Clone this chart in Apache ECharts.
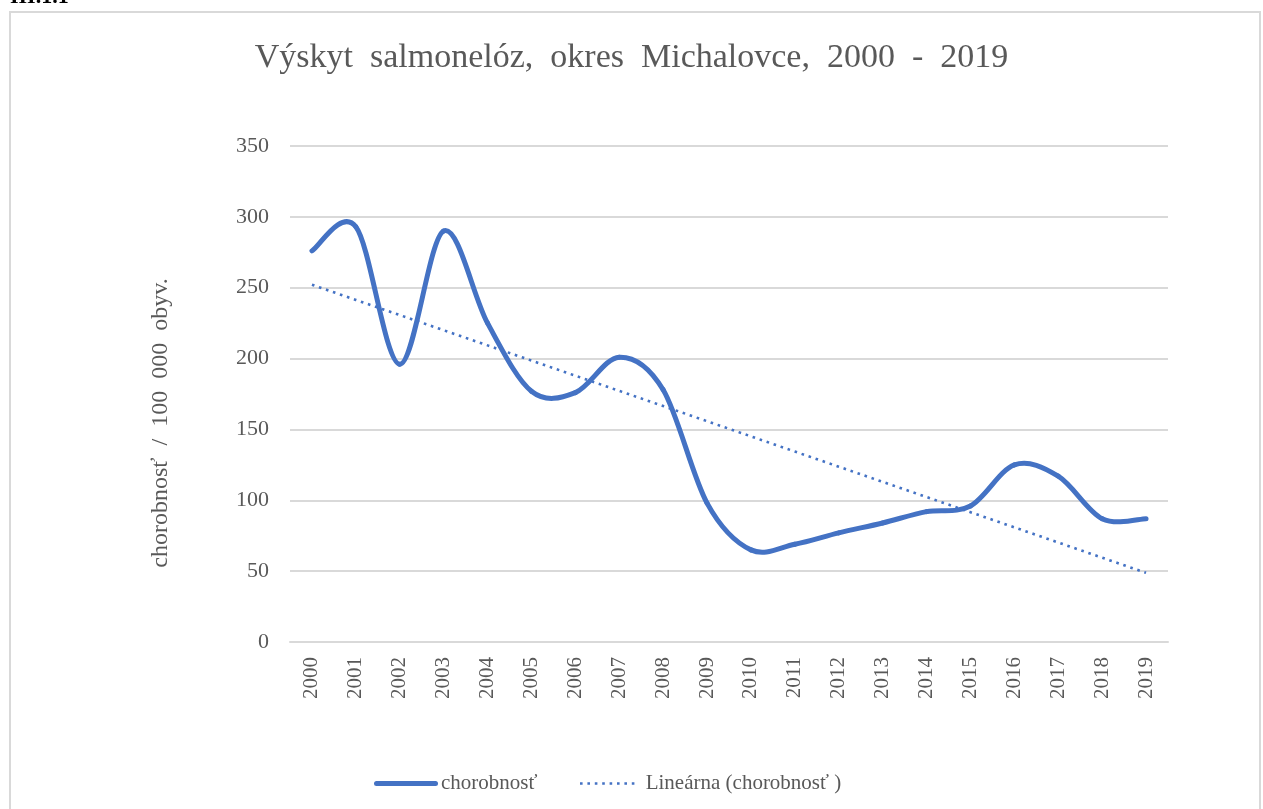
<!DOCTYPE html>
<html>
<head>
<meta charset="utf-8">
<script src="https://cdn.jsdelivr.net/npm/echarts@6/dist/echarts.min.js"></script>
<style>
  html, body { margin: 0; padding: 0; background: #fff; }
  #chart { width: 1263px; height: 809px; }
</style>
</head>
<body>
<div id="chart"></div>
<script>
// roky
var years = ['2000','2001','2002','2003','2004','2005','2006','2007','2008','2009',
             '2010','2011','2012','2013','2014','2015','2016','2017','2018','2019'];
// chorobnosť / 100 000 obyv. (odčítané z grafu)
var chorobnost = [276, 293, 196, 290, 225, 177, 176, 201, 178, 98,
                  65, 69, 77, 84, 92, 96, 125, 117, 87, 87];
var yTicks = [0, 50, 100, 150, 200, 250, 300, 350];

var serif = '"Liberation Serif", "Times New Roman", serif';
var blue = '#4472C4';
var grey = '#595959';

// lineárny trend (metóda najmenších štvorcov)
function linTrend(vals){
	var n = vals.length, sx = 0, sy = 0, sxy = 0, sxx = 0;
	for (var i = 0; i < n; i++) {
		sx += i; sy += vals[i]; sxy += i * vals[i]; sxx += i * i;
	}
	var b = (n * sxy - sx * sy) / (n * sxx - sx * sx);
	var a = (sy - b * sx) / n;
	return vals.map(function(v, i){ return +(a + b * i).toFixed(2); });
}

// vyhladená krivka ako v Exceli (Catmull-Rom cez body)
function renderSmooth(params, api){
	var i = params.dataIndex, n = chorobnost.length;
	if (i >= n - 1) return null;
	function pt(k){
		k = Math.max(0, Math.min(n - 1, k));
		return api.coord([k, chorobnost[k]]);
	}
	var p0 = pt(i - 1), p1 = pt(i), p2 = pt(i + 1), p3 = pt(i + 2);
	return {
		type: 'bezierCurve',
		shape: {
			x1: p1[0], y1: p1[1], x2: p2[0], y2: p2[1],
			cpx1: p1[0] + (p2[0] - p0[0]) / 6, cpy1: p1[1] + (p2[1] - p0[1]) / 6,
			cpx2: p2[0] - (p3[0] - p1[0]) / 6, cpy2: p2[1] - (p3[1] - p1[1]) / 6
		},
		style: { stroke: blue, lineWidth: 5, fill: 'none', lineCap: 'round' }
	};
}

// ikona bodkovanej čiary do legendy
var dots = [];
for (var d = 0; d < 8; d++) dots.push('M' + (d * 7.4) + ',0h2.6v2.6h-2.6z');
var dotIcon = 'path://' + dots.join(' ');

var myChart = echarts.init(document.getElementById('chart'));

var option = {
	animation: false,
	title: {
		text: 'Výskyt  salmonelóz,  okres  Michalovce,  2000  -  2019',
		left: 'center',
		top: 36,
		textStyle: { fontFamily: serif, fontSize: 34, fontWeight: 'normal', color: grey }
	},
	graphic: [
		{
			type: 'rect',
			shape: { x: 10, y: 12, width: 1250, height: 820 },
			style: { fill: 'none', stroke: '#d9d9d9', lineWidth: 2 },
			silent: true
		},
		{
			type: 'text',
			left: 10, top: -14,
			style: { text: 'III.1.1', font: 'bold 22px ' + serif, fill: '#000' }
		},
		{
			type: 'text',
			x: 161, y: 423,
			rotation: Math.PI / 2,
			style: {
				text: 'chorobnosť  /  100  000  obyv.',
				font: '24px ' + serif, fill: grey,
				align: 'center', verticalAlign: 'middle'
			}
		}
	],
	legend: [
		{
			data: [{ name: 'chorobnosť', icon: 'path://M2.5,0h59a2.5,2.5 0 0 1 0,5h-59a2.5,2.5 0 0 1 0,-5z' }],
			left: 369, top: 768,
			itemWidth: 64, itemHeight: 5,
			textStyle: { fontFamily: serif, fontSize: 21, color: grey, padding: [0, 0, 0, -2] }
		},
		{
			data: [{ name: 'Lineárna (chorobnosť )', icon: dotIcon }],
			left: 575, top: 768,
			itemWidth: 55, itemHeight: 2.6,
			textStyle: { fontFamily: serif, fontSize: 21, color: grey, padding: [0, 0, 0, 6] }
		}
	],
	grid: { left: 290, right: 95, top: 146, bottom: 167 },
	xAxis: {
		type: 'category',
		data: years,
		boundaryGap: true,
		axisLine: { show: true, lineStyle: { color: '#d9d9d9', width: 2 } },
		axisTick: { show: false },
		axisLabel: { rotate: 90, margin: 15, fontFamily: serif, fontSize: 21, color: grey }
	},
	yAxis: {
		type: 'value',
		min: 0, max: 350, interval: 50,
		axisLine: { show: false },
		axisTick: { show: false },
		axisLabel: {
			margin: 21, fontFamily: serif, fontSize: 22, color: grey,
			formatter: function(v){ return yTicks.indexOf(v) >= 0 ? String(v) : ''; }
		},
		splitLine: { lineStyle: { color: '#d9d9d9', width: 2 } }
	},
	series: [
		{
			name: 'chorobnosť',
			type: 'custom',
			renderItem: renderSmooth,
			data: chorobnost.map(function(v, i){ return [i, v]; }),
			encode: { x: 0, y: 1 },
			itemStyle: { color: blue },
			z: 3
		},
		{
			name: 'Lineárna (chorobnosť )',
			type: 'line',
			data: linTrend(chorobnost),
			symbol: 'none',
			lineStyle: { color: blue, width: 2.6, type: [2.6, 4.8] },
			itemStyle: { color: blue },
			z: 2
		}
	]
};

myChart.setOption(option);
</script>
</body>
</html>
